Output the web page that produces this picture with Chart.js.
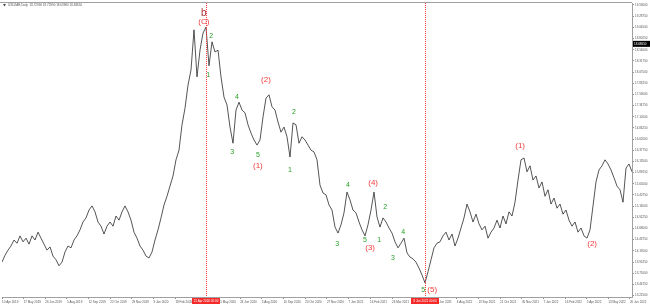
<!DOCTYPE html>
<html>
<head>
<meta charset="utf-8">
<script src="https://cdn.jsdelivr.net/npm/chart.js@4.4.1/dist/chart.umd.min.js"></script>
<style>
  html, body { margin: 0; padding: 0; background: #fff; }
  #chart { display: block; }
</style>
</head>
<body>
<canvas id="chart" width="650" height="304"></canvas>
<script>
// daily closes, one sample every 4 bars
const closes = [
  13.95, 14.10, 14.21, 14.30, 14.43, 14.36, 14.52, 14.39, 14.47, 14.34,
  14.52, 14.43, 14.60, 14.47, 14.34, 14.21, 14.28, 14.08, 14.00, 13.87,
  13.95, 14.17, 14.30, 14.26, 14.43, 14.52, 14.65, 14.82, 14.91, 15.08,
  15.17, 15.04, 14.82, 14.73, 14.56, 14.73, 14.82, 14.73, 14.95, 14.86,
  15.04, 15.17, 15.04, 14.86, 14.60, 14.47, 14.30, 14.21, 14.08, 14.04,
  14.17, 14.43, 14.65, 14.91, 15.19, 15.38, 15.60, 15.82, 16.17, 16.38,
  16.93, 17.29, 17.79, 18.12, 18.99, 17.97, 18.55, 18.92, 19.05, 18.21,
  18.73, 18.51, 18.55, 17.97, 17.53, 17.36, 16.88, 16.53, 17.25, 17.42,
  17.25, 17.19, 16.93, 16.75, 16.60, 16.49, 16.60, 17.10, 17.51, 17.58,
  17.32, 17.25, 16.99, 16.77, 16.88, 16.67, 16.23, 16.97, 16.93, 16.53,
  16.67, 16.60, 16.49, 16.38, 16.34, 16.17, 15.62, 15.45, 15.41, 15.19,
  15.08, 14.71, 14.58, 14.76, 15.02, 15.47, 15.30, 15.08, 15.02, 14.82,
  14.65, 14.52, 14.76, 15.08, 15.47, 14.93, 14.71, 14.91, 14.82, 14.69,
  14.58, 14.39, 14.26, 14.36, 14.47, 14.15, 14.06, 14.02, 13.95, 13.82,
  13.67, 13.50, 13.74, 14.00, 14.26, 14.36, 14.39, 14.52, 14.60, 14.43,
  14.56, 14.30, 14.47, 14.69, 14.91, 15.21, 15.04, 14.82, 14.99, 14.78,
  14.65, 14.73, 14.47, 14.60, 14.69, 14.86, 14.69, 14.95, 14.78, 15.04,
  14.95, 15.25, 15.73, 16.17, 16.21, 15.91, 16.04, 15.73, 15.82, 15.56,
  15.69, 15.38, 15.52, 15.21, 15.34, 15.12, 15.21, 14.99, 15.08, 14.86,
  14.73, 14.82, 14.60, 14.69, 14.52, 14.47, 14.65, 15.17, 15.69, 15.95,
  16.04, 16.17, 16.08, 15.95, 15.78, 15.60, 15.52, 15.25, 15.99, 16.08,
  15.91
];

const yTicks = [
  19.53, 19.2875, 19.045, 18.8025, 18.56, 18.3175, 18.075, 17.8325, 17.59,
  17.3475, 17.105, 16.8625, 16.62, 16.3775, 16.135, 15.8925, 15.65, 15.4075,
  15.165, 14.9225, 14.68, 14.4375, 14.195, 13.9525, 13.71, 13.4675, 13.225
];

const dateTickIdx = [
  0, 7.22, 14.44, 21.66, 28.88, 36.1, 43.3, 50.5, 57.8,
  72.2, 79.4, 86.6, 93.9, 101.1, 108.3, 115.5, 122.7, 130,
  144.4, 151.6, 158.8, 166, 173.3, 180.5, 187.7, 194.9, 202.1, 209.3
];
const dateTicks = [
  '10 Apr 2019', '17 May 2019', '26 Jun 2019', '5 Aug 2019', '12 Sep 2019',
  '22 Oct 2019', '29 Nov 2019', '9 Jan 2020', '18 Feb 2020',
  '15 May 2020', '24 Jun 2020', '3 Aug 2020', '10 Sep 2020', '20 Oct 2020',
  '27 Nov 2020', '7 Jan 2021', '16 Feb 2021', '26 Mar 2021',
  '25 Jun 2021', '4 Aug 2021', '13 Sep 2021', '21 Oct 2021', '30 Nov 2021',
  '7 Jan 2022', '16 Feb 2022', '5 Apr 2022', '13 May 2022', '20 Jun 2022'
];

const markerIdx = [68, 141];
const markerDates = ['21 Apr 2020 00:00', '8 Jun 2021 00:00'];

// wave counts: text, bar sample index, price, degree
const waveText  = ['b', '(C)', '2', '1', '3', '4', '5', '(1)', '(2)', '2', '1',
                   '4', '3', '5', '(3)', '(4)', '1', '2', '4', '3', '5', '(5)', '(1)', '(2)'];
const waveIdx   = [67.3, 67.3, 69.7, 68.7, 76.7, 78.3, 85.3, 85.3, 88, 97.3, 96,
                   115.3, 111.7, 121, 122.7, 123.7, 125.7, 127.7, 133.7, 130.3, 140.4, 143.4, 172.7, 196.7];
const wavePrice = [19.35, 19.17, 18.86, 18.01, 16.34, 17.53, 16.27, 16.04, 17.90, 17.21, 15.95,
                   15.62, 14.34, 14.43, 14.26, 15.67, 14.43, 15.15, 14.60, 14.04, 13.35, 13.35, 16.47, 14.34];
const waveDegree = ['cycle', 'major', 'minor', 'minor', 'minor', 'minor', 'minor', 'major', 'major', 'minor', 'minor',
                    'minor', 'minor', 'minor', 'major', 'major', 'minor', 'minor', 'minor', 'minor', 'minor', 'major', 'major', 'major'];

const headerText = 'USDZAR,Daily  18.72990 18.72990 18.63980 18.68650';
const lastPrice = 18.6865;

const tinyFont = { family: 'Liberation Sans', size: 3.0 };

const overlay = {
  id: 'overlay',
  afterDatasetsDraw(chart) {
    const ctx = chart.ctx;
    const xs = chart.scales.x, ys = chart.scales.y;
    const area = chart.chartArea;

    // vertical dotted markers
    ctx.save();
    ctx.strokeStyle = '#ff3c3c';
    ctx.lineWidth = 1;
    ctx.setLineDash([1, 1]);
    markerIdx.forEach(i => {
      const px = Math.round(xs.getPixelForValue(i)) + 0.5;
      ctx.beginPath();
      ctx.moveTo(px, area.top);
      ctx.lineTo(px, area.bottom);
      ctx.stroke();
    });
    ctx.restore();

    // wave labels
    ctx.save();
    ctx.textAlign = 'center';
    ctx.textBaseline = 'middle';
    waveText.forEach((t, k) => {
      const deg = waveDegree[k];
      if (deg === 'cycle') {
        ctx.fillStyle = '#a83238';
        ctx.font = '10px "Liberation Sans"';
      } else if (deg === 'major') {
        ctx.fillStyle = '#f23b3b';
        ctx.font = '8px "Liberation Sans"';
      } else {
        ctx.fillStyle = '#28a028';
        ctx.font = '7px "Liberation Sans"';
      }
      ctx.fillText(t, xs.getPixelForValue(waveIdx[k]), ys.getPixelForValue(wavePrice[k]));
    });
    ctx.restore();
  },
  afterDraw(chart) {
    const ctx = chart.ctx;
    const xs = chart.scales.x, ys = chart.scales.y;
    const area = chart.chartArea;
    ctx.save();

    // top frame line
    ctx.strokeStyle = '#a0a0a0';
    ctx.lineWidth = 1;
    ctx.beginPath();
    ctx.moveTo(0, area.top - 0.5);
    ctx.lineTo(area.right, area.top - 0.5);
    ctx.stroke();

    // red date boxes on the time axis
    ctx.font = '3px "Liberation Sans"';
    ctx.textAlign = 'center';
    ctx.textBaseline = 'middle';
    markerIdx.forEach((i, k) => {
      const px = xs.getPixelForValue(i);
      ctx.fillStyle = '#f52a2a';
      ctx.fillRect(px - 14, area.bottom + 1, 28, 6);
      ctx.fillStyle = '#ffffff';
      ctx.fillText(markerDates[k], px, area.bottom + 4);
    });

    // current price tag
    const py = ys.getPixelForValue(lastPrice);
    ctx.fillStyle = '#000';
    ctx.fillRect(area.right + 1, py - 3, 650 - area.right - 1, 6);
    ctx.fillStyle = '#fff';
    ctx.textAlign = 'left';
    ctx.fillText(lastPrice.toFixed(5), area.right + 2, py);

    // header
    ctx.fillStyle = '#444';
    ctx.beginPath();
    ctx.moveTo(3, 4); ctx.lineTo(6, 4); ctx.lineTo(4.5, 6.5); ctx.closePath();
    ctx.fill();
    ctx.fillStyle = '#555';
    ctx.textAlign = 'left';
    ctx.fillText(headerText, 8, 5.3);
    ctx.restore();
  }
};

new Chart(document.getElementById('chart'), {
  type: 'line',
  data: {
    datasets: [{
      data: closes.map((v, i) => ({ x: i, y: v })),
      borderColor: '#2a2a2a',
      borderWidth: 0.8,
      pointRadius: 0,
      tension: 0
    }]
  },
  options: {
    responsive: false,
    animation: false,
    devicePixelRatio: 1,
    layout: { padding: { left: 2, top: 3, right: 0, bottom: 0 } },
    plugins: { legend: { display: false }, tooltip: { enabled: false } },
    scales: {
      x: {
        type: 'linear',
        min: 0,
        max: 210,
        afterFit(s) { s.height = 7; },
        afterBuildTicks(s) { s.ticks = dateTickIdx.map(v => ({ value: v })); },
        ticks: {
          callback: (v, i) => dateTicks[i],
          font: tinyFont,
          color: '#555',
          maxRotation: 0,
          autoSkip: false,
          align: 'start',
          padding: 1
        },
        grid: { drawOnChartArea: false, tickLength: 2, color: '#909090' },
        border: { color: '#a0a0a0' }
      },
      y: {
        position: 'right',
        min: 13.193,
        max: 19.573,
        afterFit(s) { s.width = 18; },
        afterBuildTicks(s) { s.ticks = yTicks.map(v => ({ value: v })); },
        ticks: {
          callback: v => v.toFixed(5),
          font: tinyFont,
          color: '#555',
          padding: 1
        },
        grid: { drawOnChartArea: false, tickLength: 2, color: '#909090' },
        border: { color: '#a0a0a0' }
      }
    }
  },
  plugins: [overlay]
});
</script>
</body>
</html>
